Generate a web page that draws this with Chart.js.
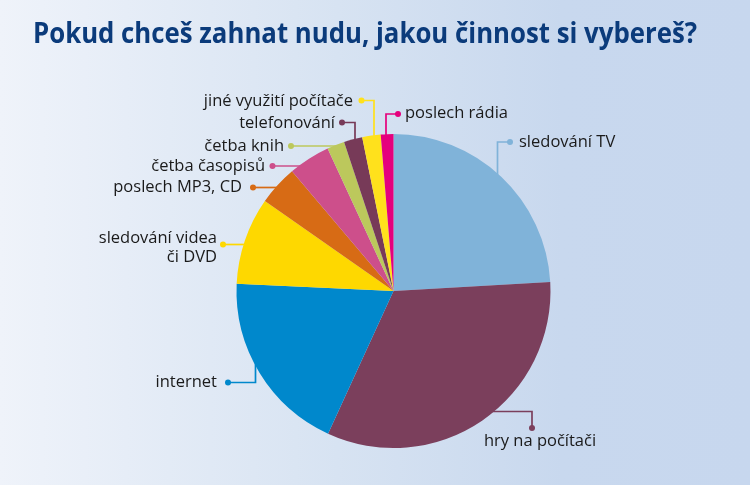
<!DOCTYPE html>
<html lang="cs">
<head>
  <meta charset="UTF-8">
  <title>Pokud chceš zahnat nudu</title>
  <script src="https://cdn.jsdelivr.net/npm/chart.js"></script>
  <style>
    html, body { margin: 0; padding: 0; }
    #wrap {
      position: relative;
      width: 750px;
      height: 485px;
      background: linear-gradient(to right, #eff3fa 0%, #d7e3f2 45%, #c8d8ee 75%, #c7d7ee 100%);
    }
  </style>
</head>
<body>
  <div id="wrap"><canvas id="pie"></canvas></div>
  <script>
    const titleText = 'Pokud chceš zahnat nudu, jakou činnost si vybereš?';
    const categories = ['sledování TV', 'hry na počítači', 'internet', 'sledování videa či DVD',
      'poslech MP3, CD', 'četba časopisů', 'četba knih', 'telefonování', 'jiné využití počítače', 'poslech rádia'];
    const shares = [24.1, 32.8, 18.9, 9.0, 4.1, 4.3, 1.8, 1.9, 1.9, 1.3];
    const colors = ['#80b3d9', '#7b3f5c', '#0088cc', '#fed800', '#d76b15', '#cd4f8b', '#bcc85c', '#773a58', '#ffe11c', '#e5007d'];

    // where each callout sits: dot position, elbow (if any), text anchor
    // kind: 'up' = line goes vertically to pie, 'side' = horizontal to pie, 'down' = horizontal to pie then down
    const callouts = [
      { kind: 'up', dot: [510, 142], elbowX: 497.5, text: [519, 142], align: 'left', lines: ['sledování TV'] },
      { kind: 'down', dot: [532, 428], elbowY: 411.5, text: [540, 441], align: 'center', lines: ['hry na počítači'] },
      { kind: 'upL', dot: [228, 382.5], elbowX: 255.5, text: [217, 382], align: 'right', lines: ['internet'] },
      { kind: 'side', dot: [223, 244.5], text: [217, 238], align: 'right', lines: ['sledování videa', 'či DVD'] },
      { kind: 'side', dot: [253, 187.5], text: [242, 187], align: 'right', lines: ['poslech MP3, CD'] },
      { kind: 'side', dot: [272.5, 166], text: [265, 166], align: 'right', lines: ['četba časopisů'] },
      { kind: 'side', dot: [291, 146], text: [284, 146], align: 'right', lines: ['četba knih'] },
      { kind: 'up', dot: [342, 122.5], elbowX: 355, text: [335, 123], align: 'right', lines: ['telefonování'] },
      { kind: 'up', dot: [361.5, 100.5], elbowX: 374, text: [353, 101], align: 'right', lines: ['jiné využití počítače'] },
      { kind: 'up', dot: [398, 114], elbowX: 386, text: [405, 113], align: 'left', lines: ['poslech rádia'] }
    ];

    const titlePlugin = {
      id: 'titlePlugin',
      beforeDraw(chart) {
        const ctx = chart.ctx;
        ctx.save();
        ctx.font = 'bold 28px "Open Sans"';
        const w = ctx.measureText(titleText).width;
        const sx = 664 / w;
        ctx.translate(33, 43);
        ctx.scale(sx, 1);
        ctx.fillStyle = '#0b3b7b';
        ctx.textBaseline = 'alphabetic';
        ctx.fillText(titleText, 0, 0);
        ctx.restore();
      }
    };

    const calloutPlugin = {
      id: 'calloutPlugin',
      beforeDatasetsDraw(chart) {
        const arc = chart.getDatasetMeta(0).data[0];
        const cx = arc.x, cy = arc.y, r = arc.outerRadius - 4;
        const ctx = chart.ctx;
        ctx.save();
        ctx.lineWidth = 1.7;
        callouts.forEach((c, i) => {
          ctx.strokeStyle = colors[i];
          ctx.beginPath();
          const [dx, dy] = c.dot;
          if (c.kind === 'up') {
            const yEdge = cy - Math.sqrt(r * r - (c.elbowX - cx) ** 2);
            ctx.moveTo(dx, dy);
            ctx.lineTo(c.elbowX, dy);
            ctx.lineTo(c.elbowX, yEdge);
          } else if (c.kind === 'upL') {
            const yEdge = cy + Math.sqrt(r * r - (c.elbowX - cx) ** 2);
            ctx.moveTo(dx, dy);
            ctx.lineTo(c.elbowX, dy);
            ctx.lineTo(c.elbowX, yEdge);
          } else if (c.kind === 'down') {
            const xEdge = cx + Math.sqrt(r * r - (c.elbowY - cy) ** 2);
            ctx.moveTo(dx, dy);
            ctx.lineTo(dx, c.elbowY);
            ctx.lineTo(xEdge, c.elbowY);
          } else {
            const xEdge = cx - Math.sqrt(r * r - (dy - cy) ** 2);
            ctx.moveTo(dx, dy);
            ctx.lineTo(xEdge, dy);
          }
          ctx.stroke();
          ctx.fillStyle = colors[i];
          ctx.beginPath();
          ctx.arc(dx, dy, 3, 0, Math.PI * 2);
          ctx.fill();

          ctx.fillStyle = '#1a1a1a';
          ctx.font = '16.5px "Open Sans"';
          ctx.textAlign = c.align;
          ctx.textBaseline = 'middle';
          c.lines.forEach((t, k) => ctx.fillText(t, c.text[0], c.text[1] + k * 19));
        });
        ctx.restore();
      }
    };

    new Chart(document.getElementById('pie'), {
      type: 'pie',
      data: {
        labels: categories,
        datasets: [{
          data: shares,
          backgroundColor: colors,
          borderWidth: 0
        }]
      },
      options: {
        responsive: true,
        maintainAspectRatio: false,
        animation: false,
        layout: { padding: { left: 236, right: 199, top: 134, bottom: 37 } },
        plugins: {
          legend: { display: false },
          tooltip: { enabled: false }
        }
      },
      plugins: [titlePlugin, calloutPlugin]
    });
  </script>
</body>
</html>
